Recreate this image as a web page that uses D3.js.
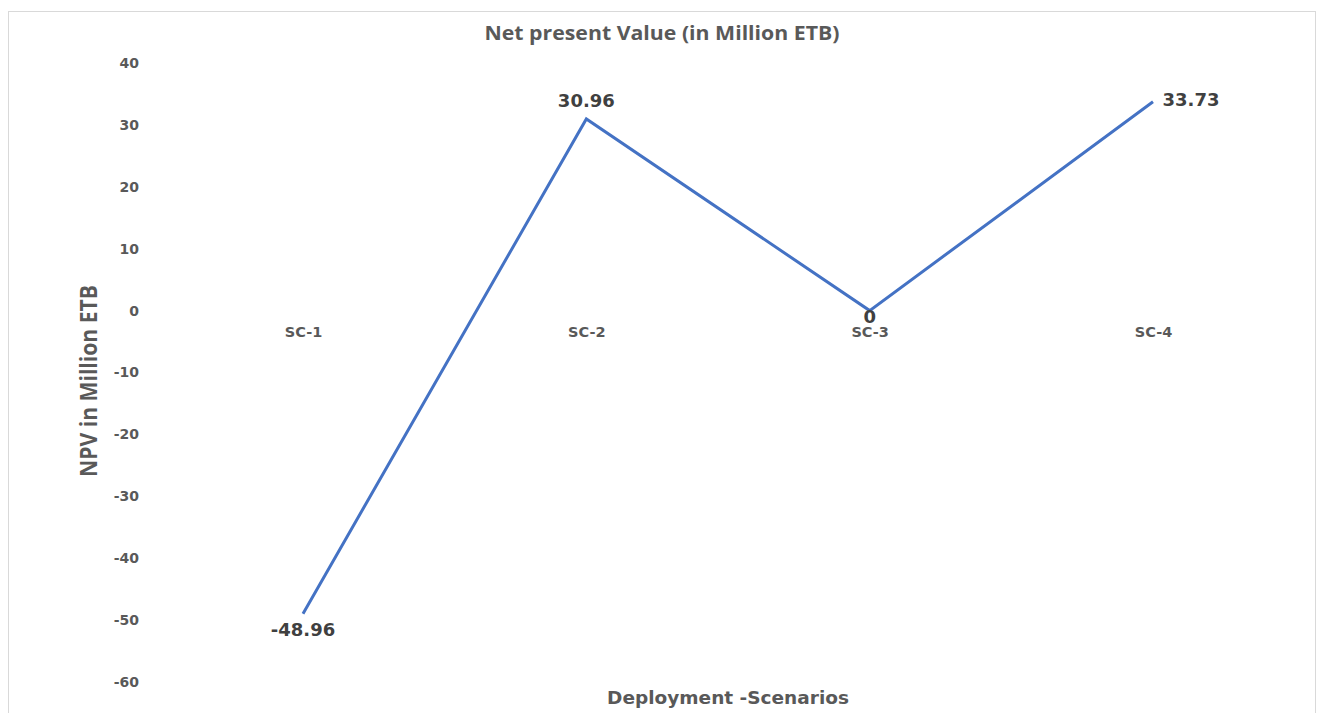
<!DOCTYPE html>
<html>
<head>
<meta charset="utf-8">
<script src="https://cdn.jsdelivr.net/npm/d3@7"></script>
<style>
  body { margin: 0; background: #fff; }
  svg { display: block; }
</style>
</head>
<body>
<script>
var categories = ["SC-1", "SC-2", "SC-3", "SC-4"];
var npvValues  = [-48.96, 30.96, 0, 33.73];
var yTicks     = [40, 30, 20, 10, 0, -10, -20, -30, -40, -50, -60];

var width  = 1321;
var height = 713;
var wideFont = "DejaVu Sans, Verdana, sans-serif";

var svg = d3.select("body")
  .append("svg")
  .attr("width", width)
  .attr("height", height);

// chart frame
svg.append("rect")
  .attr("x", 8.5)
  .attr("y", 11.5)
  .attr("width", 1307)
  .attr("height", 712)
  .attr("fill", "#fff")
  .attr("stroke", "#d9d9d9")
  .attr("stroke-width", 1);

var x = d3.scalePoint()
  .domain(categories)
  .range([303, 1153]);

var y = d3.scaleLinear()
  .domain([-60, 40])
  .range([682, 63]);

// y axis labels
var yAxis = d3.axisLeft(y)
  .tickValues(yTicks)
  .tickSize(0)
  .tickPadding(0)
  .tickFormat(function(d){ return d; });

var gy = svg.append("g")
  .attr("transform", "translate(139,0)")
  .call(yAxis);
gy.select(".domain").remove();
gy.selectAll("text")
  .attr("font-family", wideFont)
  .attr("font-weight", "bold")
  .attr("font-size", 14)
  .attr("fill", "#595959");

// category labels sit under the zero line
var xAxis = d3.axisBottom(x)
  .tickSize(0)
  .tickPadding(16);
var gx = svg.append("g")
  .attr("transform", "translate(0," + y(0) + ")")
  .call(xAxis);
gx.select(".domain").remove();
gx.selectAll("text")
  .attr("font-family", wideFont)
  .attr("font-weight", "bold")
  .attr("font-size", 14.5)
  .attr("fill", "#595959");

// the line
var line = d3.line()
  .x(function(d, i){ return x(categories[i]); })
  .y(function(d){ return y(d); });

svg.append("path")
  .datum(npvValues)
  .attr("d", line)
  .attr("fill", "none")
  .attr("stroke", "#4472c4")
  .attr("stroke-width", 3)
  .attr("stroke-linejoin", "miter");

// data labels
var labelDx = [0, 0, 0, 38];
var labelDy = [16, -18, 6, -2];
svg.selectAll(".dlabel")
  .data(npvValues)
  .enter()
  .append("text")
  .attr("class", "dlabel")
  .attr("x", function(d, i){ return x(categories[i]) + labelDx[i]; })
  .attr("y", function(d, i){ return y(d) + labelDy[i]; })
  .attr("dy", ".35em")
  .attr("text-anchor", "middle")
  .attr("font-family", wideFont)
  .attr("font-weight", "bold")
  .attr("font-size", 18)
  .attr("fill", "#404040")
  .text(function(d){ return d; });

// titles
svg.append("text")
  .attr("x", 662)
  .attr("y", 40)
  .attr("text-anchor", "middle")
  .attr("font-family", "Open Sans, sans-serif")
  .attr("font-weight", "bold")
  .attr("font-size", 19)
  .attr("textLength", 355)
  .attr("lengthAdjust", "spacingAndGlyphs")
  .attr("fill", "#595959")
  .text("Net present Value (in Million ETB)");

svg.append("text")
  .attr("x", 728)
  .attr("y", 704)
  .attr("text-anchor", "middle")
  .attr("font-family", wideFont)
  .attr("font-weight", "bold")
  .attr("font-size", 18.5)
  .attr("fill", "#595959")
  .text("Deployment -Scenarios");

svg.append("text")
  .attr("transform", "translate(97,381) rotate(-90)")
  .attr("text-anchor", "middle")
  .attr("font-family", "Open Sans, sans-serif")
  .attr("font-weight", "bold")
  .attr("font-size", 23)
  .attr("textLength", 192)
  .attr("lengthAdjust", "spacingAndGlyphs")
  .attr("fill", "#595959")
  .text("NPV in Million ETB");
</script>
</body>
</html>
